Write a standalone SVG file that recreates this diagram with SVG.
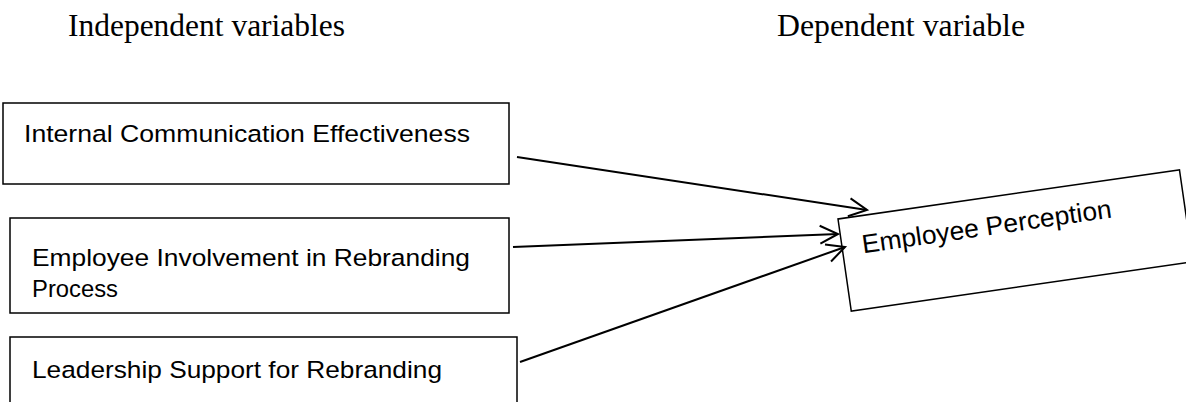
<svg xmlns="http://www.w3.org/2000/svg" width="1186" height="402" viewBox="0 0 1186 402">
<style>
.hdr{font-family:"Liberation Serif","Times New Roman",serif;font-size:32px;fill:#000}
.box{fill:#fff;stroke:#000;stroke-width:1.5}
.lbl{font-family:"Liberation Sans",Arial,sans-serif;font-size:24.5px;fill:#000}
.conn{stroke:#000;stroke-width:2;fill:none}
</style>
<defs>
<marker id="arr" markerUnits="userSpaceOnUse" markerWidth="24" markerHeight="24" viewBox="0 0 24 24" refX="20" refY="12" orient="auto">
<path d="M2,3 L20,12 L2,21" fill="none" stroke="#000" stroke-width="2"/>
</marker>
</defs>
<rect width="1186" height="402" fill="#fff"/>
<g id="headers">
<text class="hdr" x="68" y="36" textLength="277" lengthAdjust="spacingAndGlyphs">Independent variables</text>
<text class="hdr" x="777" y="36" textLength="248" lengthAdjust="spacingAndGlyphs">Dependent variable</text>
</g>
<g id="node-internal">
<rect class="box" x="3" y="103" width="506" height="81"/>
<text class="lbl" x="24" y="142" textLength="446" lengthAdjust="spacingAndGlyphs">Internal Communication Effectiveness</text>
</g>
<g id="node-involvement">
<rect class="box" x="10" y="218" width="499" height="95"/>
<text class="lbl" x="32" y="266" textLength="438" lengthAdjust="spacingAndGlyphs">Employee Involvement in Rebranding</text>
<text class="lbl" x="32" y="297" textLength="86" lengthAdjust="spacingAndGlyphs">Process</text>
</g>
<g id="node-leadership">
<rect class="box" x="10" y="337" width="507" height="80"/>
<text class="lbl" x="32" y="378" textLength="410" lengthAdjust="spacingAndGlyphs">Leadership Support for Rebranding</text>
</g>
<g id="node-perception" transform="translate(838,219) rotate(-8.2)">
<rect class="box" x="0" y="0" width="345" height="93"/>
<text class="lbl" x="20" y="37.5" style="font-size:26px" textLength="252" lengthAdjust="spacingAndGlyphs">Employee Perception</text>
</g>
<g id="connectors">
<line class="conn" x1="517" y1="157" x2="867" y2="210" marker-end="url(#arr)"/>
<line class="conn" x1="513" y1="247" x2="838" y2="234" marker-end="url(#arr)"/>
<line class="conn" x1="520" y1="362" x2="845" y2="247" marker-end="url(#arr)"/>
</g>
</svg>
